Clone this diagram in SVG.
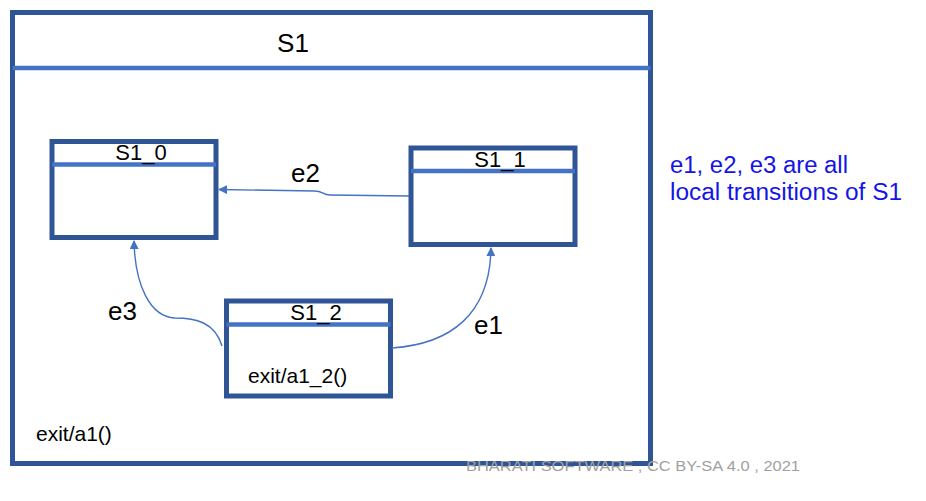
<svg xmlns="http://www.w3.org/2000/svg" width="926" height="501" viewBox="0 0 926 501">
<style>
.box{fill:#fff;stroke:#2F5597;stroke-width:5}
.div{stroke:#4472C4;stroke-width:4.5}
.t{font-family:"Liberation Sans",Arial,sans-serif;fill:#000}
.conn{fill:none;stroke:#4472C4;stroke-width:1.4}
.note{font-family:"Liberation Sans",Arial,sans-serif;fill:#1414E6;font-size:23.5px}
.foot{font-family:"Liberation Sans",Arial,sans-serif;fill:#A0A0A0;font-size:15px}
</style>
<defs>
<marker id="ah" viewBox="0 0 10 10" refX="9" refY="5" markerWidth="9" markerHeight="9" markerUnits="userSpaceOnUse" orient="auto">
<path d="M0,0 L10,5 L0,10 z" fill="#4472C4"/>
</marker>
</defs>
<rect width="926" height="501" fill="#fff"/>
<g id="S1">
<rect class="box" x="12.5" y="12.5" width="638" height="451"/>
<line class="div" x1="12.5" y1="68" x2="650.5" y2="68"/>
<text class="t" x="293" y="52" font-size="26" text-anchor="middle">S1</text>
<text class="t" x="36" y="441" font-size="21">exit/a1()</text>
</g>
<g id="S1_0">
<rect class="box" x="52" y="141.5" width="164" height="96"/>
<line class="div" x1="52" y1="164.5" x2="216" y2="164.5"/>
<text class="t" x="141" y="160" font-size="22" text-anchor="middle">S1_0</text>
</g>
<g id="S1_1">
<rect class="box" x="411" y="148" width="164" height="96.5"/>
<line class="div" x1="411" y1="171" x2="575" y2="171"/>
<text class="t" x="500" y="167" font-size="22" text-anchor="middle">S1_1</text>
</g>
<g id="S1_2">
<rect class="box" x="226.5" y="301" width="164" height="95"/>
<line class="div" x1="226.5" y1="324.5" x2="390.5" y2="324.5"/>
<text class="t" x="316" y="320" font-size="22" text-anchor="middle">S1_2</text>
<text class="t" x="248" y="383" font-size="21">exit/a1_2()</text>
</g>
<g id="connectors">
<path class="conn" d="M409,196 L330,195 C322,195 324,191 314,191 L219,189.5" marker-end="url(#ah)"/>
<path class="conn" d="M222,346 C215,322 195,318 175,318 C150,317 135,285 134,241" marker-end="url(#ah)"/>
<path class="conn" d="M392,348 C450,344 490,315 491,248" marker-end="url(#ah)"/>
<text class="t" x="291" y="182" font-size="26">e2</text>
<text class="t" x="108" y="320" font-size="26">e3</text>
<text class="t" x="474" y="334" font-size="26">e1</text>
</g>
<g id="note">
<text class="note" x="670" y="173" textLength="178" lengthAdjust="spacingAndGlyphs">e1, e2, e3 are all</text>
<text class="note" x="670" y="200" textLength="232" lengthAdjust="spacingAndGlyphs">local transitions of S1</text>
</g>
<text class="foot" x="466" y="471" textLength="334" lengthAdjust="spacingAndGlyphs">BHARATI SOFTWARE , CC BY-SA 4.0 , 2021</text>
</svg>
